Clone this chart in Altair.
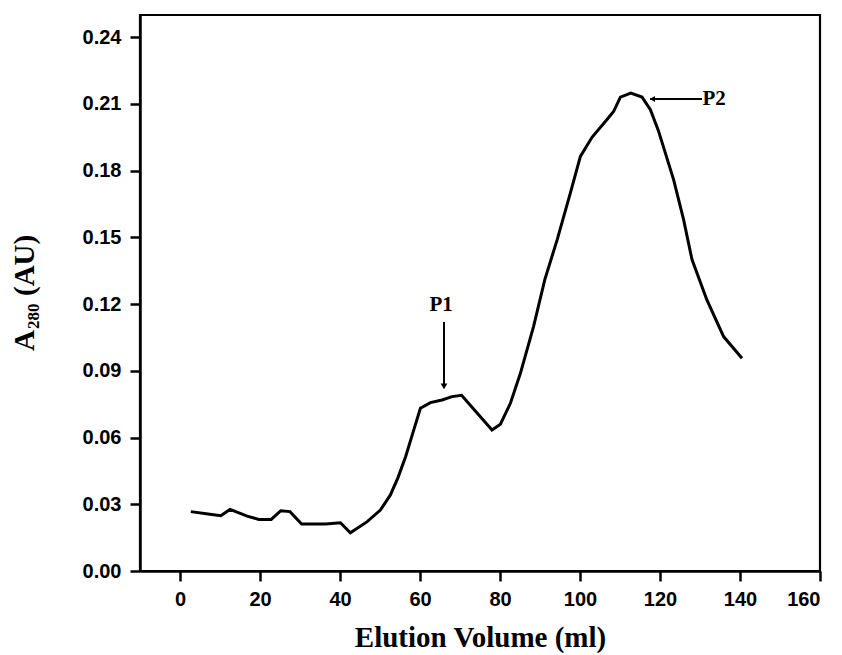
import altair as alt
import pandas as pd

# Elution profile
volume = [2.7, 7.0, 10.2, 12.5, 16.8, 19.7, 22.8, 25.2, 27.5, 30.4, 36.4, 40.1, 42.6,
          46.8, 50.1, 52.6, 54.5, 56.4, 58.2, 60.1, 62.6, 65.5, 68.0, 70.4, 74.0,
          78.0, 80.1, 82.6, 85.1, 88.4, 91.2, 94.3, 97.6, 100.1, 103.0, 106.7,
          108.4, 110.1, 112.7, 115.5, 117.6, 119.6, 120.9, 123.4, 125.9, 128.0,
          131.7, 135.9, 140.5]
absorbance = [0.0267, 0.0256, 0.0249, 0.0277, 0.0247, 0.0232, 0.0232, 0.0271, 0.0267,
              0.0211, 0.0211, 0.0217, 0.0172, 0.0222, 0.0274, 0.0342, 0.0420, 0.0514,
              0.0620, 0.0732, 0.0757, 0.0769, 0.0784, 0.0790, 0.0716, 0.0634, 0.0660,
              0.0754, 0.0889, 0.1100, 0.1310, 0.1490, 0.1700, 0.1864, 0.1950, 0.2029,
              0.2066, 0.2131, 0.2149, 0.2131, 0.2074, 0.1980, 0.1905, 0.1760, 0.1580,
              0.1400, 0.1220, 0.1054, 0.0957]

x_ticks = [0, 20, 40, 60, 80, 100, 120, 140, 160]
y_ticks = [0.00, 0.03, 0.06, 0.09, 0.12, 0.15, 0.18, 0.21, 0.24]

peak_labels = ["P1", "P2"]
peak_label_x = [65.3, 130.6]
peak_label_y = [0.1195, 0.2122]
arrow_x = [66.0, 117.5]
arrow_x2 = [66.0, 130.5]
arrow_y = [0.1120, 0.2122]
arrow_y2 = [0.0830, 0.2122]

ytitle_parts = ["A", "280", "(AU)"]

df = pd.DataFrame({"volume": volume, "absorbance": absorbance})

xscale = alt.Scale(domain=[-10, 160], nice=False, zero=False)
yscale = alt.Scale(domain=[0, 0.25], nice=False)

line = alt.Chart(df).mark_line(color="black", strokeWidth=3).encode(
    x=alt.X("volume:Q", scale=xscale,
            axis=alt.Axis(values=x_ticks, title="Elution Volume (ml)", format="d")),
    y=alt.Y("absorbance:Q", scale=yscale,
            axis=alt.Axis(values=y_ticks, format=".2f", title="")),
)

arrows_df = pd.DataFrame({"x": arrow_x, "x2": arrow_x2, "y": arrow_y, "y2": arrow_y2})
arrows = alt.Chart(arrows_df).mark_rule(color="black", strokeWidth=2).encode(
    x=alt.X("x:Q", scale=xscale), x2="x2:Q",
    y=alt.Y("y:Q", scale=yscale), y2="y2:Q",
)

head1 = alt.Chart(pd.DataFrame({"x": [arrow_x[0]], "y": [arrow_y2[0]]})).mark_point(
    shape="triangle-down", filled=True, color="black", size=45, opacity=1
).encode(x=alt.X("x:Q", scale=xscale), y=alt.Y("y:Q", scale=yscale))

head2 = alt.Chart(pd.DataFrame({"x": [arrow_x[1] + 0.6], "y": [arrow_y[1]]})).mark_point(
    shape="triangle-left", filled=True, color="black", size=35, opacity=1
).encode(x=alt.X("x:Q", scale=xscale), y=alt.Y("y:Q", scale=yscale))

p1 = alt.Chart(pd.DataFrame({"t": [peak_labels[0]], "x": [peak_label_x[0]], "y": [peak_label_y[0]]})).mark_text(
    font="Liberation Serif", fontSize=21, fontWeight="bold", color="black",
    align="center", baseline="middle"
).encode(x=alt.X("x:Q", scale=xscale), y=alt.Y("y:Q", scale=yscale), text="t:N")

p2 = alt.Chart(pd.DataFrame({"t": [peak_labels[1]], "x": [peak_label_x[1]], "y": [peak_label_y[1]]})).mark_text(
    font="Liberation Serif", fontSize=21, fontWeight="bold", color="black",
    align="left", baseline="middle"
).encode(x=alt.X("x:Q", scale=xscale), y=alt.Y("y:Q", scale=yscale), text="t:N")

# Y-axis title with subscript, built from rotated text pieces
yt_a = alt.Chart(pd.DataFrame({"t": [ytitle_parts[0]]})).mark_text(
    font="Liberation Serif", fontSize=29, fontWeight="bold", color="black",
    angle=270, align="left", baseline="alphabetic"
).encode(text="t:N", x=alt.value(-106), y=alt.value(336))
yt_sub = alt.Chart(pd.DataFrame({"t": [ytitle_parts[1]]})).mark_text(
    font="Liberation Serif", fontSize=17, fontWeight="bold", color="black",
    angle=270, align="left", baseline="alphabetic"
).encode(text="t:N", x=alt.value(-101), y=alt.value(314))
yt_au = alt.Chart(pd.DataFrame({"t": [ytitle_parts[2]]})).mark_text(
    font="Liberation Serif", fontSize=29, fontWeight="bold", color="black",
    angle=270, align="left", baseline="alphabetic"
).encode(text="t:N", x=alt.value(-106), y=alt.value(281))

chart = alt.layer(line, arrows, head1, head2, p1, p2, yt_a, yt_sub, yt_au).properties(
    width=680, height=556,
    autosize=alt.AutoSizeParams(type="none"),
    padding={"left": 132, "top": 7, "right": 14, "bottom": 84},
    background="white",
).configure_view(
    stroke="black", strokeWidth=2.2
).configure_axis(
    grid=False,
    domainColor="black", domainWidth=2.5,
    tickColor="black", tickWidth=2.5, tickSize=10,
    labelColor="black", labelFont="Liberation Sans", labelFontSize=20,
    labelFontWeight="bold",
    titleColor="black", titleFont="Liberation Serif", titleFontSize=29,
    titleFontWeight="bold",
).configure_axisX(
    labelPadding=8, titlePadding=14,
).configure_axisY(
    labelPadding=9,
)

chart.save("out.html", embed_options={"renderer": "svg", "actions": False})
